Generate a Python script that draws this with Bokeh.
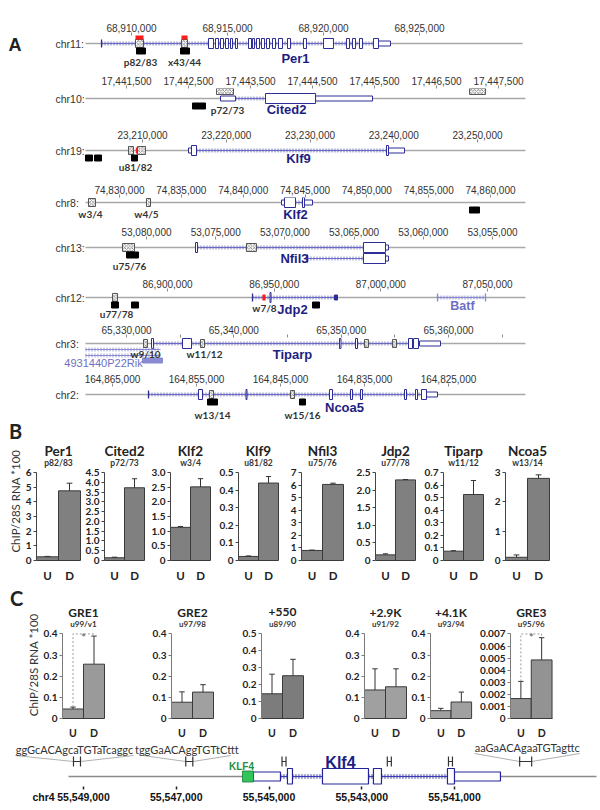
import math
from bokeh.plotting import figure
from bokeh.layouts import column, row
from bokeh.models import Range1d, LinearAxis, FixedTicker, NumeralTickFormatter, Label, Grid
from bokeh.embed import file_html
from bokeh.resources import INLINE

FONT_AR = "Liberation Sans"
FONT_CAL = "Lato"

# ======================= DATA : panel A (genomic coordinates) =======================
chr11_ticks = [68910000, 68915000, 68920000, 68925000]
chr11_tick_labels = ["68,910,000", "68,915,000", "68,920,000", "68,925,000"]
per1_exons = [(68914010, 68914271), (68914375, 68914531), (68914635, 68914791), (68914896, 68915052),
              (68915156, 68915260), (68915416, 68915520), (68916093, 68916250), (68916302, 68916406),
              (68916510, 68916666), (68916770, 68916927), (68917031, 68917187), (68917343, 68917500),
              (68917656, 68917864), (68918124, 68918281), (68918958, 68919114), (68920000, 68920520),
              (68921197, 68921353), (68921510, 68921666), (68921874, 68922030), (68922603, 68922864)]
per1_utrs = [(68922864, 68923489)]
per1_introns = [(68908440, 68922864)]
per1_marks = [68908440]
chr11_hatched = [(68910208, 68910625), (68912604, 68912916)]
chr11_red = [(68910208, 68910625), (68912604, 68912916)]
chr11_black = [(68910260, 68910729), (68912552, 68913021)]
chr11_probe_names = ["p82/83", "x43/44"]
chr11_probe_pos = [68910469, 68912760]

chr10_ticks = [17441500, 17442500, 17443500, 17444500, 17445500, 17446500, 17447500]
chr10_tick_labels = ["17,441,500", "17,442,500", "17,443,500", "17,444,500", "17,445,500", "17,446,500", "17,447,500"]
cited2_exons = [(17443742, 17444549)]
cited2_utrs = [(17443016, 17443258), (17444549, 17445468)]
cited2_introns = [(17443258, 17443742)]
chr10_hatched_above = [(17442952, 17443226), (17447033, 17447291)]
chr10_black = [(17442565, 17442774)]
chr10_probe_names = ["p72/73"]
chr10_probe_pos = [17443129]

chr19_ticks = [23210000, 23220000, 23230000, 23240000, 23250000]
chr19_tick_labels = ["23,210,000", "23,220,000", "23,230,000", "23,240,000", "23,250,000"]
klf9_exons = [(23215851, 23216448), (23239134, 23239372)]
klf9_utrs = [(23215492, 23215851), (23239372, 23241283)]
klf9_introns = [(23216448, 23239134)]
chr19_hatched = [(23208328, 23208925), (23209403, 23210358)]
chr19_red_on = [(23209200, 23209380)]
chr19_black = [(23203194, 23204030), (23204269, 23205105), (23208687, 23209403)]
chr19_probe_names = ["u81/82"]
chr19_probe_pos = [23209164]

chr8_ticks = [74830000, 74835000, 74840000, 74845000, 74850000, 74855000, 74860000]
chr8_tick_labels = ["74,830,000", "74,835,000", "74,840,000", "74,845,000", "74,850,000", "74,855,000", "74,860,000"]
klf2_exons = [(74843342, 74844231), (74844797, 74844959)]
klf2_utrs = [(74843099, 74843342), (74844959, 74845606)]
klf2_introns = [(74844231, 74844797)]
chr8_hatched = [(74827493, 74828059), (74832183, 74832507)]
chr8_black = [(74858301, 74859110)]
chr8_probe_names = ["w3/4", "w4/5"]
chr8_probe_pos = [74827655, 74832183]

chr13_ticks = [53080000, 53075000, 53070000, 53065000, 53060000, 53055000]
chr13_tick_labels = ["53,080,000", "53,075,000", "53,070,000", "53,065,000", "53,060,000", "53,055,000"]
nfil3_exons = [(53076460, 53076315), (53064322, 53062732)]
nfil3_utrs = [(53062732, 53062516)]
nfil3_introns = [(53076315, 53064322)]
nfil3b_exons = [(53064322, 53062732)]
nfil3b_utrs = [(53062732, 53062516)]
nfil3b_introns = [(53068368, 53064322)]
nfil3b_marks = [53068368]
chr13_hatched = [(53081734, 53080867), (53072775, 53072053)]
chr13_black = [(53081445, 53080578)]
chr13_probe_names = ["u75/76"]
chr13_probe_pos = [53081228]

chr12_ticks = [86900000, 86950000, 87000000, 87050000]
chr12_tick_labels = ["86,900,000", "86,950,000", "87,000,000", "87,050,000"]
jdp2_introns = [(86939844, 86979219)]
jdp2_exons = [(86948050, 86948520)]
jdp2_solid = [(86978281, 86979688)]
jdp2_marks = [86939844]
batf_introns = [(87026563, 87049063)]
batf_marks = [87026563, 87049063]
chr12_hatched = [(86874219, 86876563)]
chr12_red_on = [(86944531, 86945938)]
chr12_black = [(86873750, 86877031), (86883125, 86886406), (86967969, 86971250)]
chr12_probe_names = ["u77/78", "w7/8"]
chr12_probe_pos = [86876094, 86945469]

chr3_ticks = [65330000, 65340000, 65350000, 65360000]
chr3_tick_labels = ["65,330,000", "65,340,000", "65,350,000", "65,360,000"]
chr3_minor = [65335000, 65345000, 65355000, 65365000]
tiparp_exons = [(65332329, 65332516), (65335218, 65336056), (65349845, 65349984), (65351336, 65351522),
                (65356274, 65356647), (65356740, 65357206)]
tiparp_utrs = [(65357299, 65359255)]
tiparp_introns = [(65332516, 65357299)]
rik_introns = [(65326180, 65333168)]
rik_solid = [(65331491, 65333354)]
chr3_hatched = [(65331584, 65331957), (65336895, 65337267), (65352174, 65352547), (65354783, 65355156)]
chr3_probe_names = ["w9/10", "w11/12"]
chr3_probe_pos = [65331770, 65337267]

chr2_ticks = [164865000, 164855000, 164845000, 164835000, 164825000]
chr2_tick_labels = ["164,865,000", "164,855,000", "164,845,000", "164,835,000", "164,825,000"]
ncoa5_exons = [(164854762, 164854286), (164849107, 164848988), (164839166, 164838810), (164836667, 164836428),
               (164835476, 164835238), (164830238, 164830000), (164828929, 164828690), (164828214, 164827619)]
ncoa5_utrs = [(164827619, 164826310)]
ncoa5_introns = [(164860714, 164827619)]
ncoa5_marks = [164860714]
chr2_hatched = [(164853452, 164852976), (164843809, 164843333)]
chr2_black = [(164853690, 164852500), (164842738, 164842024)]
chr2_probe_names = ["w13/14", "w15/16"]
chr2_probe_pos = [164853095, 164842381]

# ======================= DATA : panel B =======================
b_genes = ["Per1", "Cited2", "Klf2", "Klf9", "Nfil3", "Jdp2", "Tiparp", "Ncoa5"]
b_primers = ["p82/83", "p72/73", "w3/4", "u81/82", "u75/76", "u77/78", "w11/12", "w13/14"]
conditions = ["U", "D"]
b_values = [[0.25, 4.75], [0.14, 3.72], [1.13, 2.51], [0.023, 0.44], [0.8, 6.05], [0.16, 2.29], [0.074, 0.525], [0.11, 2.8]]
b_err_top = [[0.28, 5.27], [0.17, 4.18], [1.16, 2.79], [0.026, 0.477], [0.83, 6.15], [0.19, 2.30], [0.078, 0.636], [0.19, 2.92]]
b_ticks = [[0, 1, 2, 3, 4, 5, 6],
           [0, 0.5, 1.0, 1.5, 2.0, 2.5, 3.0, 3.5, 4.0, 4.5],
           [0, 0.5, 1.0, 1.5, 2.0, 2.5, 3.0],
           [0, 0.1, 0.2, 0.3, 0.4, 0.5],
           [0, 1, 2, 3, 4, 5, 6, 7],
           [0, 0.5, 1.0, 1.5, 2.0, 2.5],
           [0, 0.1, 0.2, 0.3, 0.4, 0.5, 0.6, 0.7],
           [0, 1, 2, 3]]
b_tick_labels = [["0", "1", "2", "3", "4", "5", "6"],
                 ["0", "0.5", "1.0", "1.5", "2.0", "2.5", "3.0", "3.5", "4.0", "4.5"],
                 ["0", "0.5", "1.0", "1.5", "2.0", "2.5", "3.0"],
                 ["0", "0.1", "0.2", "0.3", "0.4", "0.5"],
                 ["0", "1", "2", "3", "4", "5", "6", "7"],
                 ["0", "0.5", "1.0", "1.5", "2.0", "2.5"],
                 ["0", "0.1", "0.2", "0.3", "0.4", "0.5", "0.6", "0.7"],
                 ["0", "1", "2", "3"]]

# ======================= DATA : panel C =======================
c_sites = ["GRE1", "GRE2", "+550", "+2.9K", "+4.1K", "GRE3"]
c_primers = ["u99/v1", "u97/98", "u89/90", "u91/92", "u93/94", "u95/96"]
c_values = [[0.045, 0.257], [0.077, 0.125], [0.146, 0.253], [0.135, 0.15], [0.037, 0.078], [0.00165, 0.00485]]
c_err_top = [[0.054, 0.39], [0.126, 0.16], [0.262, 0.35], [0.235, 0.235], [0.048, 0.125], [0.00307, 0.00669]]
c_signif = [True, False, False, False, False, True]
c_ticks = [[0, 0.1, 0.2, 0.3, 0.4], [0, 0.1, 0.2, 0.3, 0.4], [0, 0.1, 0.2, 0.3, 0.4, 0.5],
           [0, 0.1, 0.2, 0.3, 0.4], [0, 0.1, 0.2, 0.3, 0.4],
           [0, 0.001, 0.002, 0.003, 0.004, 0.005, 0.006, 0.007]]
c_tick_labels = [["0", "0.1", "0.2", "0.3", "0.4"], ["0", "0.1", "0.2", "0.3", "0.4"],
                 ["0", "0.1", "0.2", "0.3", "0.4", "0.5"], ["0", "0.1", "0.2", "0.3", "0.4"],
                 ["0", "0.1", "0.2", "0.3", "0.4"],
                 ["0", "0.001", "0.002", "0.003", "0.004", "0.005", "0.006", "0.007"]]

chr4_ticks = [55549000, 55547000, 55545000, 55543000, 55541000]
chr4_tick_labels = ["55,549,000", "55,547,000", "55,545,000", "55,543,000", "55,541,000"]
klf4_exons = [(55544602, 55544494), (55543847, 55542855), (55542748, 55542575), (55541152, 55541001)]
klf4_utrs = [(55545335, 55544753), (55541001, 55540009)]
klf4_introns = [(55544753, 55544602), (55544494, 55543847), (55542855, 55542748), (55542575, 55541152)]
klf4_site = [(55545572, 55545335)]
gre_seqs = ["ggGcACAgcaTGTaTcaggc", "tggGaACAggTGTtCttt", "aaGaACAgaaTGTagttc"]
gre_spans = [(55549216, 55549065), (55546795, 55546643), (55539595, 55539336)]
gre_seq_spans = [(55550470, 55547919), (55547724, 55545822), (55540568, 55538298)]
amplicon_sites = [(55544719, 55544633), (55542449, 55542362), (55541130, 55541044)]

# ======================= STYLE =======================
EXON_COL = "#2d2d96"
INTRON_COL = "#6b6bc6"
LIGHT_COL = "#8a8ad2"
GENE_TXT = "#1e1e82"
LIGHT_TXT = "#6f6fc2"
LINE_COL = "#a8a8a8"
COMMON = dict(output_backend="svg", toolbar_location=None, title=None,
              x_axis_location=None, y_axis_location=None)


def clean(p):
    p.outline_line_color = None
    for r in p.center:
        if isinstance(r, Grid):
            r.visible = False
    return p


def add_label(p, text, x, y, size, color="#222222", font=FONT_CAL, bold=False,
              align="center", baseline="middle", xr=None, yr=None, angle=0.0):
    kw = {}
    if xr:
        kw["x_range_name"] = xr
    if yr:
        kw["y_range_name"] = yr
    p.add_layout(Label(x=x, y=y, text=text, text_font=font, text_font_size=f"{size}px",
                       text_color=color, text_font_style="bold" if bold else "normal",
                       text_align=align, text_baseline=baseline, angle=angle, **kw))


def quads(p, items, y0, y1, **kw):
    if items:
        p.quad(left=[a for a, b in items], right=[b for a, b in items],
               top=[y0] * len(items), bottom=[y1] * len(items), **kw)


def draw_gene(p, g, y, col=EXON_COL, icol=INTRON_COL, eh=5.0, uh=2.5, dash_w=4):
    intr = g.get("introns", [])
    if intr:
        x0 = [a for a, b in intr]
        x1 = [b for a, b in intr]
        p.segment(x0=x0, y0=[y] * len(intr), x1=x1, y1=[y] * len(intr), line_color=icol, line_width=1)
        p.segment(x0=x0, y0=[y] * len(intr), x1=x1, y1=[y] * len(intr), line_color=icol,
                  line_width=dash_w, line_dash="1 2", line_alpha=0.8)
    quads(p, g.get("utrs", []), y - uh, y + uh, fill_color="white", line_color=col, line_width=1)
    quads(p, g.get("exons", []), y - eh, y + eh, fill_color="white", line_color=col, line_width=1)
    quads(p, g.get("solid", []), y - 2.5, y + 2.5, fill_color=col, line_color=col, line_width=1)
    m = g.get("marks", [])
    if m:
        p.segment(x0=m, y0=[y - 4] * len(m), x1=m, y1=[y + 4] * len(m), line_color=col, line_width=1.3)


def blank_fig(x0, x1, y0, y1):
    p = figure(width=x1 - x0, height=y1 - y0, x_range=Range1d(x0, x1), y_range=Range1d(y1, y0),
               min_border_left=0, min_border_right=0, min_border_top=0, min_border_bottom=0, **COMMON)
    return clean(p)


TRACKS = [
    dict(chrom="chr11:", ticks=chr11_ticks, labels=chr11_tick_labels, cal=((68910000, 131), (68925000, 419)),
         top=0, ftop=35, bottom=70, line_y=43, line_x=(85, 522),
         genes=[dict(exons=per1_exons, utrs=per1_utrs, introns=per1_introns, marks=per1_marks, y=43,
                     label="Per1", label_x=68918541, label_y=58)],
         hatched=chr11_hatched, red=chr11_red, black=chr11_black,
         pnames=chr11_probe_names, ppos=chr11_probe_pos, py=[61, 61]),
    dict(chrom="chr10:", ticks=chr10_ticks, labels=chr10_tick_labels, cal=((17441500, 126), (17447500, 498)),
         top=70, ftop=88, bottom=124, line_y=98, line_x=(85, 525),
         genes=[dict(exons=cited2_exons, utrs=cited2_utrs, introns=cited2_introns, y=98,
                     label="Cited2", label_x=17444081, label_y=109)],
         hatched_above=chr10_hatched_above, black=chr10_black,
         pnames=chr10_probe_names, ppos=chr10_probe_pos, py=[109]),
    dict(chrom="chr19:", ticks=chr19_ticks, labels=chr19_tick_labels, cal=((23210000, 142), (23250000, 477)),
         top=124, ftop=142, bottom=179, line_y=150, line_x=(85, 525),
         genes=[dict(exons=klf9_exons, utrs=klf9_utrs, introns=klf9_introns, y=150,
                     label="Klf9", label_x=23228626, label_y=158)],
         hatched=chr19_hatched, red_on=chr19_red_on, black=chr19_black,
         pnames=chr19_probe_names, ppos=chr19_probe_pos, py=[166]),
    dict(chrom="chr8:", ticks=chr8_ticks, labels=chr8_tick_labels, cal=((74830000, 119), (74860000, 490)),
         top=179, ftop=197, bottom=221, line_y=202, line_x=(85, 525),
         genes=[dict(exons=klf2_exons, utrs=klf2_utrs, introns=klf2_introns, y=202,
                     label="Klf2", label_x=74844231, label_y=214)],
         hatched=chr8_hatched, black=chr8_black,
         pnames=chr8_probe_names, ppos=chr8_probe_pos, py=[213, 213]),
    dict(chrom="chr13:", ticks=chr13_ticks, labels=chr13_tick_labels, cal=((53080000, 146), (53055000, 492)),
         top=221, ftop=239, bottom=273, line_y=247, line_x=(85, 525),
         genes=[dict(exons=nfil3_exons, utrs=nfil3_utrs, introns=nfil3_introns, y=247),
                dict(exons=nfil3b_exons, utrs=nfil3b_utrs, introns=nfil3b_introns, marks=nfil3b_marks, y=258,
                     label="Nfil3", label_x=53069307, label_y=258)],
         hatched=chr13_hatched, black=chr13_black,
         pnames=chr13_probe_names, ppos=chr13_probe_pos, py=[265]),
    dict(chrom="chr12:", ticks=chr12_ticks, labels=chr12_tick_labels, cal=((86900000, 167), (87050000, 487)),
         top=273, ftop=291, bottom=319, line_y=297, line_x=(85, 525),
         genes=[dict(exons=jdp2_exons, solid=jdp2_solid, introns=jdp2_introns, marks=jdp2_marks, y=297,
                     label="Jdp2", label_x=86958594, label_y=309),
                dict(introns=batf_introns, marks=batf_marks, y=297, light=True,
                     label="Batf", label_x=87038281, label_y=305)],
         hatched=chr12_hatched, red_on=chr12_red_on, black=chr12_black,
         pnames=chr12_probe_names, ppos=chr12_probe_pos, py=[313, 307]),
    dict(chrom="chr3:", ticks=chr3_ticks, labels=chr3_tick_labels, minor=chr3_minor,
         cal=((65330000, 126), (65360000, 448)),
         top=319, ftop=337, bottom=368, line_y=343, line_x=(85, 525),
         genes=[dict(exons=tiparp_exons, utrs=tiparp_utrs, introns=tiparp_introns, y=343,
                     label="Tiparp", label_x=65345466, label_y=354),
                dict(introns=rik_introns, y=349, light=True),
                dict(introns=rik_introns, y=355, light=True),
                dict(solid=rik_solid, y=360, light=True,
                     label="4931440P22Rik", label_x=65327857, label_y=362, small=True)],
         hatched=chr3_hatched,
         pnames=chr3_probe_names, ppos=chr3_probe_pos, py=[353, 353]),
    dict(chrom="chr2:", ticks=chr2_ticks, labels=chr2_tick_labels, cal=((164865000, 112), (164825000, 448)),
         top=368, ftop=386, bottom=420, line_y=394, line_x=(85, 525),
         genes=[dict(exons=ncoa5_exons, utrs=ncoa5_utrs, introns=ncoa5_introns, marks=ncoa5_marks, y=394,
                     label="Ncoa5", label_x=164837381, label_y=407)],
         hatched=chr2_hatched, black=chr2_black,
         pnames=chr2_probe_names, ppos=chr2_probe_pos, py=[414, 414]),
]


def cal_range(cal, px0, px1):
    (g0, p0), (g1, p1) = cal
    k = (g1 - g0) / (p1 - p0)
    return Range1d(g0 + (px0 - p0) * k, g0 + (px1 - p0) * k)


def px_to_genome(cal, px):
    (g0, p0), (g1, p1) = cal
    return g0 + (px - p0) * (g1 - g0) / (p1 - p0)


# ======================= PANEL A =======================
panel_a = []
for i, tr in enumerate(TRACKS):
    x_left = 45 if i == 0 else 0
    p = figure(width=600 - x_left, height=tr["bottom"] - tr["top"], x_range=cal_range(tr["cal"], x_left, 600),
               y_range=Range1d(tr["bottom"], tr["ftop"]), min_border_left=0, min_border_right=0,
               min_border_top=tr["ftop"] - tr["top"], min_border_bottom=0, **COMMON)
    clean(p)
    p.extra_x_ranges = {"px": Range1d(x_left, 600)}
    minor = tr.get("minor", [])
    ax = LinearAxis(ticker=FixedTicker(ticks=tr["ticks"], minor_ticks=minor),
                    formatter=NumeralTickFormatter(format="0,0"),
                    major_label_overrides=dict(zip(tr["ticks"], tr["labels"])))
    ax.axis_line_color = None
    ax.major_tick_in = 0
    ax.major_tick_out = 3
    ax.major_tick_line_color = "#8c8c8c"
    ax.minor_tick_in = 0
    ax.minor_tick_out = 3
    ax.minor_tick_line_color = "#8c8c8c" if minor else None
    ax.major_label_standoff = 1
    ax.major_label_text_font = FONT_AR
    ax.major_label_text_font_size = "10px"
    ax.major_label_text_color = "#333333"
    p.add_layout(ax, "above")

    ly = tr["line_y"]
    p.segment(x0=[tr["line_x"][0]], y0=[ly], x1=[tr["line_x"][1]], y1=[ly], x_range_name="px",
              line_color=LINE_COL, line_width=1.3)
    add_label(p, tr["chrom"], 55, ly, 10.5, color="#333333", font=FONT_AR, align="left", xr="px")

    for g in tr["genes"]:
        light = g.get("light", False)
        draw_gene(p, g, g["y"], col=LIGHT_COL if light else EXON_COL,
                  icol=LIGHT_COL if light else INTRON_COL)
        if "label" in g:
            if g.get("small"):
                add_label(p, g["label"], g["label_x"], g["label_y"], 11, color=LIGHT_TXT, font=FONT_AR)
            else:
                add_label(p, g["label"], g["label_x"], g["label_y"], 13 if not light else 12.5,
                          color=LIGHT_TXT if light else GENE_TXT, font=FONT_AR, bold=True)

    quads(p, tr.get("hatched", []), ly - 4, ly + 4, fill_color="white", line_color="#333333",
          line_width=0.8, hatch_pattern="x", hatch_color="#666666", hatch_scale=3.5, hatch_weight=0.7)
    quads(p, tr.get("hatched_above", []), ly - 10, ly - 4, fill_color="white", line_color="#333333",
          line_width=0.8, hatch_pattern="x", hatch_color="#666666", hatch_scale=3.5, hatch_weight=0.7)
    quads(p, tr.get("red", []), ly - 9, ly - 4, fill_color="#ff1a1a", line_color=None)
    quads(p, tr.get("red_on", []), ly - 3, ly + 3, fill_color="#ff1a1a", line_color=None)
    quads(p, tr.get("black", []), ly + 4.5, ly + 10.5, fill_color="black", line_color="black")
    for name, pos, yy in zip(tr["pnames"], tr["ppos"], tr["py"]):
        add_label(p, name, pos, yy, 10, color="#333333", font=FONT_CAL, bold=True)
    if i == 0:
        lead_a = blank_fig(0, 45, 0, 70)
        add_label(lead_a, "A", 14.5, 18.5, 18, color="#222222", font=FONT_AR, bold=True)
        panel_a.append(row(lead_a, p))
    else:
        panel_a.append(p)


# ======================= bar panel helper =======================
def bar_panel(c_l, c_r, f_l, bw, top, ymax_y, zero_y, bottom, ticks, tlabels, vals, errs,
              title, sub, title_y, sub_y, title_size, sub_size, fill, axis_col, ud_size):
    ymax = ticks[-1]
    p = figure(width=c_r - c_l, height=bottom - top,
               x_range=Range1d(0, (c_r - f_l) / bw), y_range=Range1d(0, ymax * (zero_y - top) / (zero_y - ymax_y)),
               min_border_left=f_l - c_l, min_border_right=0,
               min_border_top=0, min_border_bottom=bottom - zero_y, **COMMON)
    clean(p)
    p.extra_x_ranges = {"px": Range1d(f_l, c_r)}
    p.extra_y_ranges = {"px": Range1d(zero_y, top)}
    xs = [0.5, 1.5]
    p.vbar(x=xs, top=vals, bottom=0, width=1, fill_color=fill, line_color="#3a3a3a", line_width=1)
    p.segment(x0=xs, y0=vals, x1=xs, y1=errs, line_color="#333333", line_width=1)
    p.segment(x0=[x - 0.13 for x in xs], y0=errs, x1=[x + 0.13 for x in xs], y1=errs,
              line_color="#333333", line_width=1)

    yax = LinearAxis(ticker=FixedTicker(ticks=ticks), major_label_overrides=dict(zip(ticks, tlabels)),
                     bounds=(0, ymax))
    yax.axis_line_color = axis_col
    yax.major_tick_line_color = axis_col
    yax.major_tick_in = 0
    yax.major_tick_out = 3
    yax.minor_tick_line_color = None
    yax.major_label_standoff = 2
    yax.major_label_text_font = FONT_CAL
    yax.major_label_text_font_size = "10px"
    yax.major_label_text_font_style = "bold"
    yax.major_label_text_color = "#222222"
    p.add_layout(yax, "left")

    xax = LinearAxis(ticker=FixedTicker(ticks=xs), major_label_overrides=dict(zip(xs, conditions)),
                     bounds=(0, 2))
    xax.axis_line_color = "#3a3a3a"
    xax.major_tick_line_color = None
    xax.minor_tick_line_color = None
    xax.major_label_standoff = 2
    xax.major_label_text_font = FONT_CAL
    xax.major_label_text_font_size = f"{ud_size}px"
    xax.major_label_text_font_style = "bold"
    xax.major_label_text_color = "#222222"
    p.add_layout(xax, "below")

    cx = f_l + bw
    add_label(p, title, cx, title_y, title_size, bold=True, xr="px", yr="px")
    add_label(p, sub, cx, sub_y, sub_size, bold=True, color="#333333", xr="px", yr="px")
    return p


# ======================= PANEL B =======================
B_TOP, B_BOT = 420, 585
b_frame_left = [36, 104, 170, 238, 301, 375, 443, 505]
b_bar_w = [22, 20, 20, 20, 21, 20, 20, 22]
b_canvas = [22, 82, 147, 214, 281, 350, 419, 487, 600]
lead_b = blank_fig(0, 22, B_TOP, B_BOT)
add_label(lead_b, "B", 15, 432, 20, bold=True)
add_label(lead_b, "ChIP/28S RNA *100", 15, 515, 11.5, color="#333333", angle=math.pi / 2)
b_figs = [lead_b]
for i in range(8):
    b_figs.append(bar_panel(b_canvas[i], b_canvas[i + 1], b_frame_left[i], b_bar_w[i], B_TOP, 472, 560, B_BOT,
                            b_ticks[i], b_tick_labels[i], b_values[i], b_err_top[i], b_genes[i], b_primers[i],
                            450, 462, 13.5, 8.5, "#808080", "#444444", 11.5))

# ======================= PANEL C =======================
C_TOP, C_BOT = 585, 741
c_frame_left = [62, 171, 261, 364, 429, 509]
c_canvas = [40, 140, 225, 330, 408, 476, 600]
c_fill = ["#9a9a9a", "#a0a0a0", "#7c7c7c", "#a0a0a0", "#a0a0a0", "#939393"]
lead_c = blank_fig(0, 40, C_TOP, C_BOT)
add_label(lead_c, "C", 16, 600, 20, bold=True)
add_label(lead_c, "ChIP/28S RNA *100", 33, 678, 11.5, color="#333333", angle=math.pi / 2)
c_figs = [lead_c]
for i in range(6):
    p = bar_panel(c_canvas[i], c_canvas[i + 1], c_frame_left[i], 21, C_TOP, 636, 725, C_BOT,
                  c_ticks[i], c_tick_labels[i], c_values[i], c_err_top[i], c_sites[i], c_primers[i],
                  613, 626, 12, 8, c_fill[i], "#7a7a7a", 10.5)
    if c_signif[i]:
        ym = c_ticks[i][-1]
        p.line(x=[0.5, 0.5, 1.5, 1.5], y=[c_err_top[i][0], ym, ym, c_err_top[i][1]],
               line_color="#9a9a9a", line_width=1, line_dash="2 2")
        add_label(p, "*", 1.0, ym * 0.955, 11, color="#555555")
    c_figs.append(p)

# ======================= Klf4 gene (chr4) =======================
CHR4_CAL = ((55549000, 83), (55541000, 454))
G_TOP, G_FB, G_BOT, G_LINE = 741, 786, 808, 776
chr4_name_pos = px_to_genome(CHR4_CAL, 43)   # where the "chr4" caption sits on the coordinate row
gp = figure(width=600, height=G_BOT - G_TOP, x_range=cal_range(CHR4_CAL, 0, 600),
            y_range=Range1d(G_FB, G_TOP), min_border_left=0, min_border_right=0, min_border_top=0,
            min_border_bottom=G_BOT - G_FB, **COMMON)
clean(gp)
gp.extra_x_ranges = {"px": Range1d(0, 600)}
gax = LinearAxis(ticker=FixedTicker(ticks=[chr4_name_pos] + chr4_ticks, minor_ticks=chr4_ticks),
                 formatter=NumeralTickFormatter(format="0,0"),
                 major_label_overrides=dict(zip([chr4_name_pos] + chr4_ticks, ["chr4"] + chr4_tick_labels)))
gax.axis_line_color = None
gax.major_tick_in = 0
gax.major_tick_out = 3
gax.major_tick_line_color = None
gax.minor_tick_in = 0
gax.minor_tick_out = 3
gax.minor_tick_line_color = "#222222"
gax.minor_tick_line_width = 1.5
gax.major_label_standoff = 1
gax.major_label_text_font = FONT_AR
gax.major_label_text_font_size = "10.5px"
gax.major_label_text_font_style = "bold"
gax.major_label_text_color = "#111111"
gp.add_layout(gax, "below")

gp.segment(x0=[68], y0=[G_LINE], x1=[596], y1=[G_LINE], x_range_name="px", line_color="#8a8a8a", line_width=1.5)
draw_gene(gp, dict(introns=klf4_introns), G_LINE, col="#24249a", icol="#3c3cb4", dash_w=5)
quads(gp, klf4_utrs, G_LINE - 4.5, G_LINE + 4.5, fill_color="white", line_color="#24249a", line_width=1.2)
quads(gp, klf4_exons, G_LINE - 8, G_LINE + 7.5, fill_color="white", line_color="#24249a", line_width=1.2)
quads(gp, klf4_site, G_LINE - 5.5, G_LINE + 5.5, fill_color="#33c45a", line_color="#1d7a35", line_width=0.8)
add_label(gp, "KLF4", 55545594, 766, 10, color="#1f8f3f", font=FONT_AR, bold=True)
add_label(gp, "Klf4", 55543459, 762, 16, color=GENE_TXT, font=FONT_AR, bold=True)

for seq, (m0, m1), (s0, s1), sy in zip(gre_seqs, gre_spans, gre_seq_spans, [749, 749, 747]):
    gp.segment(x0=[s0, s1], y0=[sy + 6, sy + 6], x1=[m0, m1], y1=[761, 761], line_color="#b0b0b0", line_width=1)
    add_label(gp, seq, (s0 + s1) / 2, sy, 11, color="#333333", font=FONT_CAL)
marks = gre_spans + amplicon_sites
gp.segment(x0=[a for a, b in marks], y0=[756] * len(marks), x1=[a for a, b in marks], y1=[766] * len(marks),
           line_color="#333333", line_width=1.2)
gp.segment(x0=[b for a, b in marks], y0=[756] * len(marks), x1=[b for a, b in marks], y1=[766] * len(marks),
           line_color="#333333", line_width=1.2)
gp.segment(x0=[a for a, b in marks], y0=[761] * len(marks), x1=[b for a, b in marks], y1=[761] * len(marks),
           line_color="#333333", line_width=1)

layout = column(column(*panel_a), row(*b_figs), row(*c_figs), gp)
open("out.html", "w").write(file_html(layout, INLINE))
